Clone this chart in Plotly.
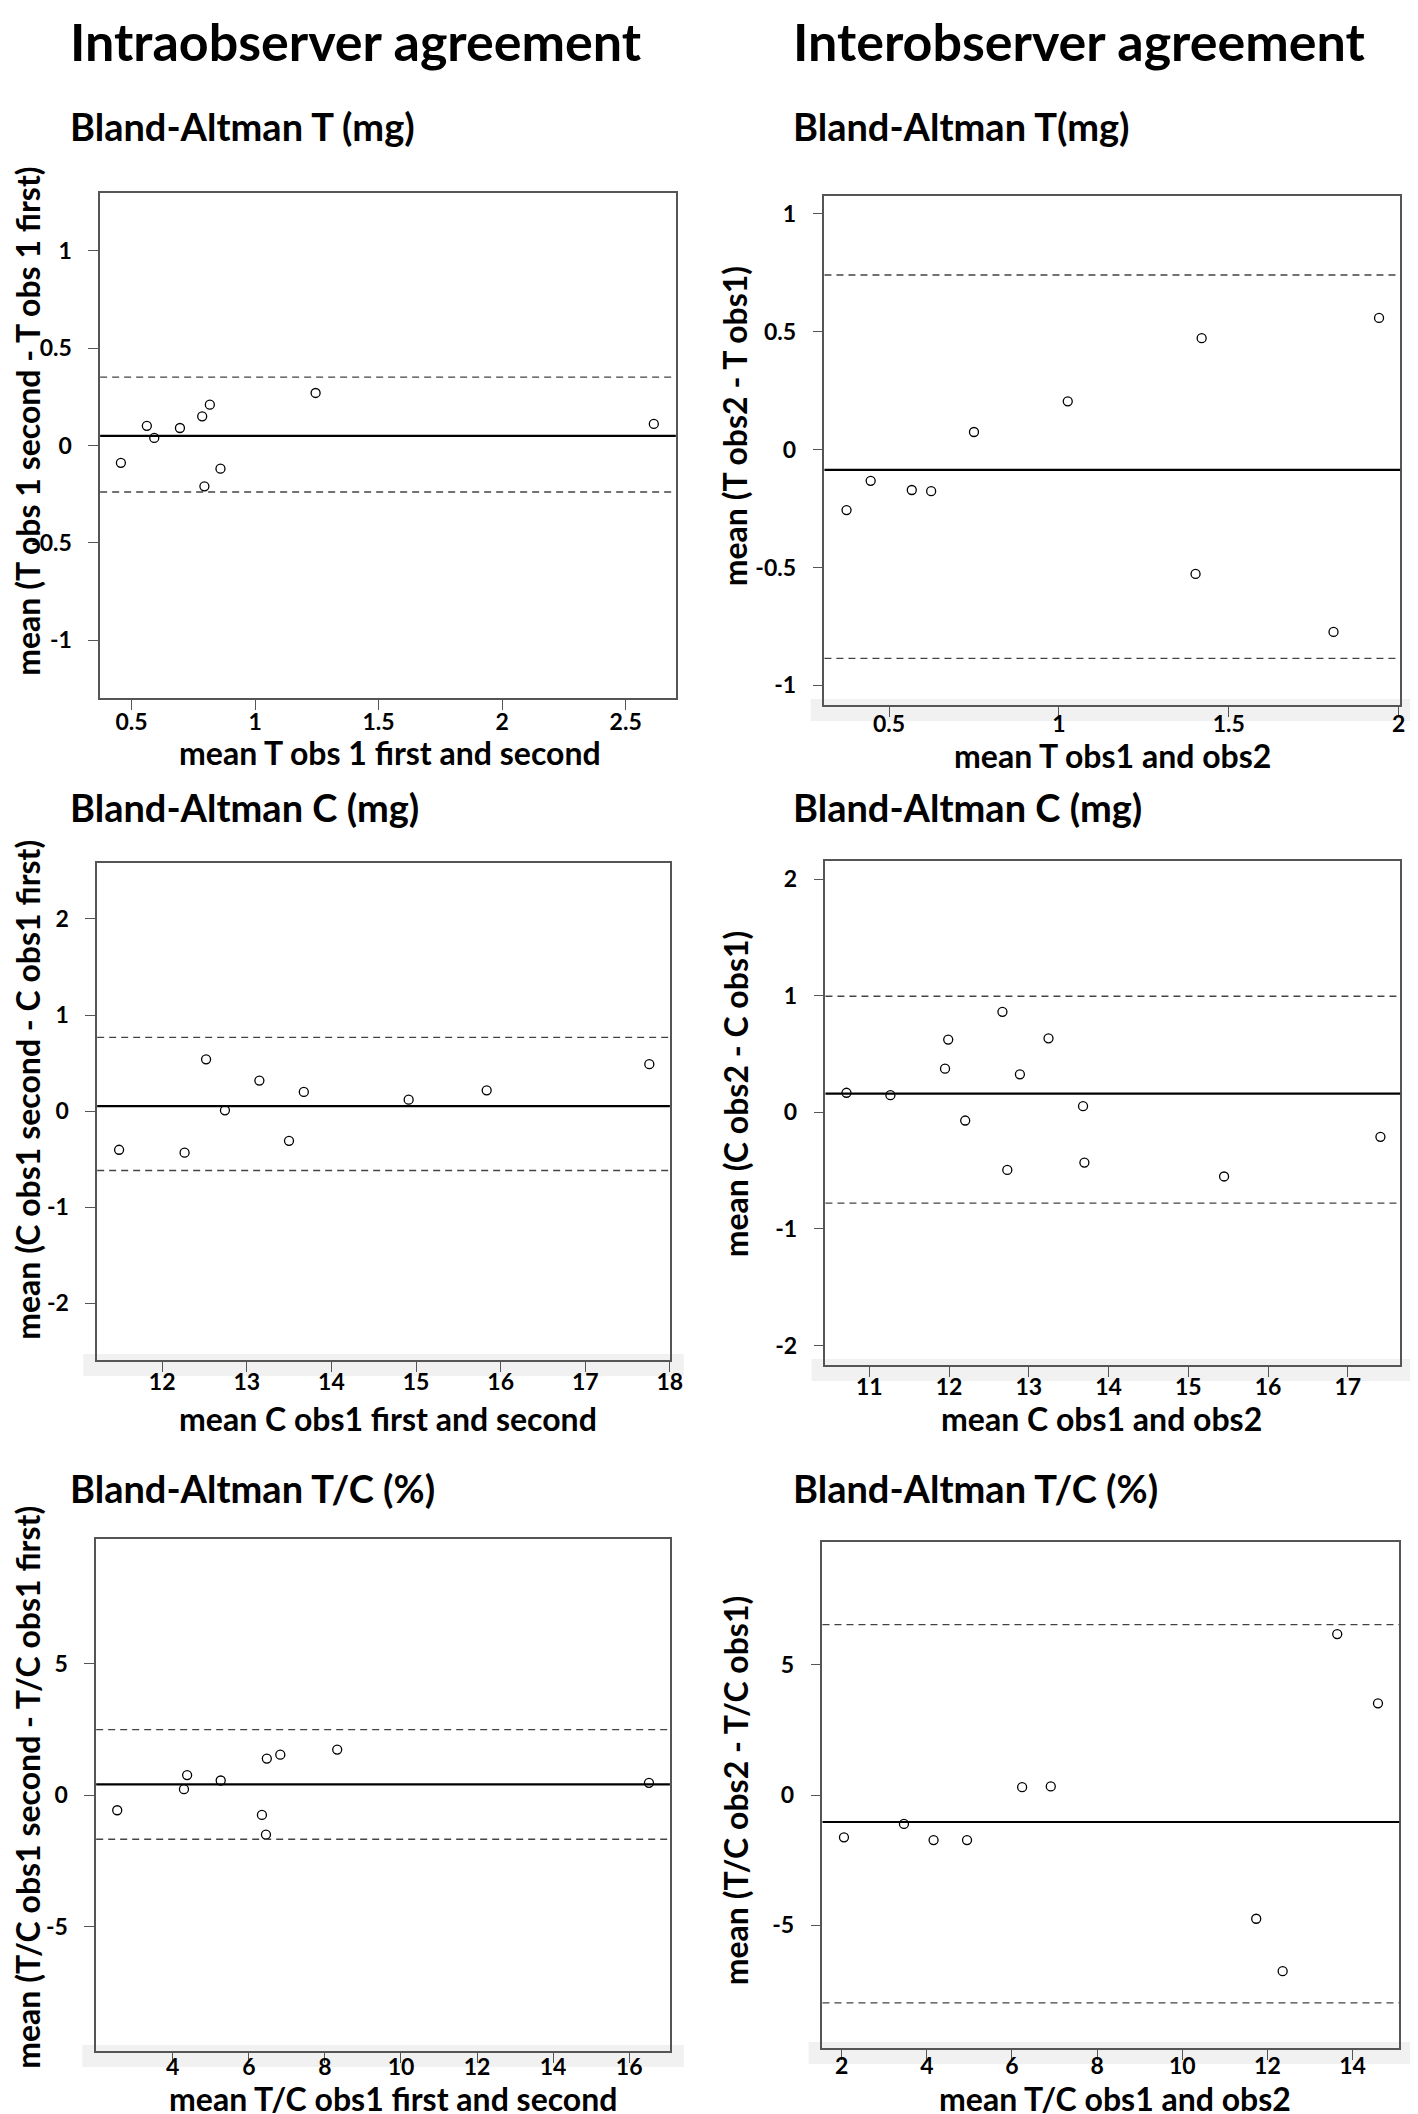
import plotly.graph_objects as go

W, H = 1418, 2114

# Intraobserver T (mg)
t_intra_x = [0.457, 0.562, 0.592, 0.696, 0.786, 0.817, 0.795, 0.860, 1.245, 2.614]
t_intra_y = [-0.089, 0.101, 0.039, 0.090, 0.150, 0.210, -0.210, -0.119, 0.270, 0.111]
t_intra_mean, t_intra_hi, t_intra_lo = 0.049, 0.352, -0.239

# Interobserver T (mg)
t_inter_x = [0.375, 0.446, 0.567, 0.624, 0.750, 1.026, 1.420, 1.402, 1.808, 1.942]
t_inter_y = [-0.256, -0.132, -0.171, -0.176, 0.075, 0.205, 0.473, -0.527, -0.773, 0.559]
t_inter_mean, t_inter_hi, t_inter_lo = -0.086, 0.741, -0.885

# Intraobserver C (mg)
c_intra_x = [11.491, 12.265, 12.519, 12.742, 13.149, 13.499, 13.674, 14.913, 15.835, 17.757]
c_intra_y = [-0.403, -0.433, 0.539, 0.008, 0.318, -0.310, 0.199, 0.119, 0.216, 0.488]
c_intra_mean, c_intra_hi, c_intra_lo = 0.051, 0.768, -0.619

# Interobserver C (mg)
c_inter_x = [10.713, 11.264, 11.949, 11.989, 12.202, 12.669, 12.730, 12.888, 13.247,
             13.680, 13.697, 15.449, 17.410]
c_inter_y = [0.168, 0.147, 0.375, 0.624, -0.070, 0.862, -0.494, 0.326, 0.635,
             0.053, -0.431, -0.550, -0.210]
c_inter_mean, c_inter_hi, c_inter_lo = 0.161, 0.996, -0.778

# Intraobserver T/C (%)
tc_intra_x = [2.539, 4.294, 4.377, 5.260, 6.344, 6.450, 6.473, 6.827, 8.323, 16.520]
tc_intra_y = [-0.580, 0.223, 0.759, 0.551, -0.759, -1.503, 1.384, 1.533, 1.726, 0.461]
tc_intra_mean, tc_intra_hi, tc_intra_lo = 0.402, 2.485, -1.682

# Interobserver T/C (%)
tc_inter_x = [2.053, 3.462, 4.158, 4.944, 6.238, 6.911, 11.737, 12.358, 13.640, 14.597]
tc_inter_y = [-1.627, -1.114, -1.732, -1.732, 0.301, 0.331, -4.759, -6.777, 6.190, 3.524]
tc_inter_mean, tc_inter_hi, tc_inter_lo = -1.039, 6.551, -7.997

# tick values
t_intra_xticks = [0.5, 1, 1.5, 2, 2.5]
t_inter_xticks = [0.5, 1, 1.5, 2]
t_yticks = [-1, -0.5, 0, 0.5, 1]
c_intra_xticks = [12, 13, 14, 15, 16, 17, 18]
c_inter_xticks = [11, 12, 13, 14, 15, 16, 17]
c_yticks = [-2, -1, 0, 1, 2]
tc_intra_xticks = [4, 6, 8, 10, 12, 14, 16]
tc_inter_xticks = [2, 4, 6, 8, 10, 12, 14]
tc_yticks = [-5, 0, 5]


def lbl(vals):
    # plain hyphen for negatives, like the R original
    return [f"{v:g}" for v in vals]


FONT = "Lato"
LEFT_TXT, RIGHT_TXT = 61, 790  # left edge of titles in each column

panels = [
    dict(x=t_intra_x, y=t_intra_y, lines=(t_intra_mean, t_intra_hi, t_intra_lo),
         box=(93, 674, 185, 690), xr=[0.373, 2.703], yr=[-1.298, 1.298],
         xt=t_intra_xticks, yt=t_yticks, band=False, xoff=-7,
         sub="Bland-Altman T (mg)", sub_pos=(LEFT_TXT, 118),
         xtitle="mean T obs 1 first and second", xt_pos=(386, 744),
         ytitle="mean (T obs 1 second - T obs 1 first)", yt_pos=(19, 413)),
    dict(x=t_inter_x, y=t_inter_y, lines=(t_inter_mean, t_inter_hi, t_inter_lo),
         box=(824, 1405, 188, 697), xr=[0.31, 2.004], yr=[-1.083, 1.076],
         xt=t_inter_xticks, yt=t_yticks, band=True, xoff=-12,
         sub="Bland-Altman T(mg)", sub_pos=(RIGHT_TXT, 118),
         xtitle="mean T obs1 and obs2", xt_pos=(1115, 748),
         ytitle="mean (T obs2 - T obs1)", yt_pos=(734, 418)),
    dict(x=c_intra_x, y=c_intra_y, lines=(c_intra_mean, c_intra_hi, c_intra_lo),
         box=(90, 668, 855, 1352), xr=[11.232, 18.0], yr=[-2.592, 2.583],
         xt=c_intra_xticks, yt=c_yticks, band=True, xoff=-9,
         sub="Bland-Altman C (mg)", sub_pos=(LEFT_TXT, 799),
         xtitle="mean C obs1 first and second", xt_pos=(384, 1410),
         ytitle="mean (C obs1 second - C obs1 first)", yt_pos=(19, 1082)),
    dict(x=c_inter_x, y=c_inter_y, lines=(c_inter_mean, c_inter_hi, c_inter_lo),
         box=(825, 1405, 853, 1357), xr=[10.449, 17.657], yr=[-2.167, 2.156],
         xt=c_inter_xticks, yt=c_yticks, band=True, xoff=-9,
         sub="Bland-Altman C (mg)", sub_pos=(RIGHT_TXT, 799),
         xtitle="mean C obs1 and obs2", xt_pos=(1104, 1410),
         ytitle="mean (C obs2 - C obs1)", yt_pos=(734, 1086)),
    dict(x=tc_intra_x, y=tc_intra_y, lines=(tc_intra_mean, tc_intra_hi, tc_intra_lo),
         box=(89, 668, 1531, 2043), xr=[1.986, 17.07], yr=[-9.73, 9.73],
         xt=tc_intra_xticks, yt=tc_yticks, band=True, xoff=-15,
         sub="Bland-Altman T/C (%)", sub_pos=(LEFT_TXT, 1480),
         xtitle="mean T/C obs1 first and second", xt_pos=(389, 2090),
         ytitle="mean (T/C obs1 second - T/C obs1 first)", yt_pos=(19, 1779)),
    dict(x=tc_inter_x, y=tc_inter_y, lines=(tc_inter_mean, tc_inter_hi, tc_inter_lo),
         box=(822, 1404, 1534, 2040), xr=[1.548, 15.094], yr=[-9.73, 9.73],
         xt=tc_inter_xticks, yt=tc_yticks, band=True, xoff=-13,
         sub="Bland-Altman T/C (%)", sub_pos=(RIGHT_TXT, 1480),
         xtitle="mean T/C obs1 and obs2", xt_pos=(1117, 2090),
         ytitle="mean (T/C obs2 - T/C obs1)", yt_pos=(734, 1782)),
]

fig = go.Figure()
layout = {}
annotations = []
shapes = []


def px(x):
    return x / W


def py(y):
    return 1 - y / H


axis_common = dict(
    showline=True, mirror=True, linecolor="#555", linewidth=1.5,
    ticks="outside", ticklen=10, tickcolor="#555", tickwidth=1.2,
    showgrid=False, zeroline=False,
    tickfont=dict(family=FONT, size=23, color="black", weight="bold"),
)

for i, p in enumerate(panels, start=1):
    sfx = "" if i == 1 else str(i)
    x0, x1, y0, y1 = p["box"]
    layout[f"xaxis{sfx}"] = dict(
        axis_common, domain=[px(x0), px(x1)], range=p["xr"], anchor=f"y{sfx}",
        tickvals=p["xt"], ticktext=lbl(p["xt"]), ticklabelstandoff=p["xoff"],
    )
    layout[f"yaxis{sfx}"] = dict(
        axis_common, domain=[py(y1), py(y0)], range=p["yr"], anchor=f"x{sfx}",
        tickvals=p["yt"], ticktext=lbl(p["yt"]), ticklabelstandoff=12,
    )
    # faint grey band under the x axis (scan artefact in the original figure)
    if p["band"]:
        shapes.append(dict(type="rect", xref="paper", yref="paper", layer="below",
                           x0=px(x0 - 14), x1=px(x1 + 14), y0=py(y1 + 16), y1=py(y1 - 6),
                           fillcolor="#f1f1f1", line=dict(width=0)))
    fig.add_trace(go.Scatter(
        x=p["x"], y=p["y"], mode="markers", xaxis=f"x{sfx}", yaxis=f"y{sfx}",
        marker=dict(symbol="circle-open", size=9, color="black",
                    line=dict(width=1.3, color="black")),
        showlegend=False, hoverinfo="x+y",
    ))
    mean, hi, lo = p["lines"]
    for val, style in [(mean, dict(color="black", width=2.2)),
                       (hi, dict(color="#444", width=1.3, dash="7px,5px")),
                       (lo, dict(color="#444", width=1.3, dash="7px,5px"))]:
        shapes.append(dict(type="line", xref=f"x{sfx} domain", yref=f"y{sfx}",
                           x0=0, x1=1, y0=val, y1=val, line=style))

    sx, sy = p["sub_pos"]
    annotations.append(dict(text=p["sub"], x=px(sx), y=py(sy), xref="paper", yref="paper",
                            xanchor="left", yanchor="middle", showarrow=False,
                            font=dict(family=FONT, size=38, color="black", weight="bold")))
    tx, ty = p["xt_pos"]
    annotations.append(dict(text=p["xtitle"], x=px(tx), y=py(ty), xref="paper", yref="paper",
                            xanchor="center", yanchor="middle", showarrow=False,
                            font=dict(family=FONT, size=32, color="black", weight="bold")))
    yx, yy = p["yt_pos"]
    annotations.append(dict(text=p["ytitle"], x=px(yx), y=py(yy), xref="paper", yref="paper",
                            xanchor="center", yanchor="middle", showarrow=False, textangle=-90,
                            font=dict(family=FONT, size=32, color="black", weight="bold")))

# column headings, hung from the top edge of the page
for text, x in [("Intraobserver agreement", LEFT_TXT), ("Interobserver agreement", RIGHT_TXT)]:
    annotations.append(dict(text=text, x=px(x), y=1, xref="paper", yref="paper",
                            xanchor="left", yanchor="top", showarrow=False,
                            font=dict(family=FONT, size=52, color="black", weight="bold")))

fig.update_layout(
    **layout,
    width=W, height=H,
    margin=dict(l=0, r=0, t=0, b=0),
    paper_bgcolor="white", plot_bgcolor="white",
    annotations=annotations, shapes=shapes,
)

fig.write_html("out.html")
